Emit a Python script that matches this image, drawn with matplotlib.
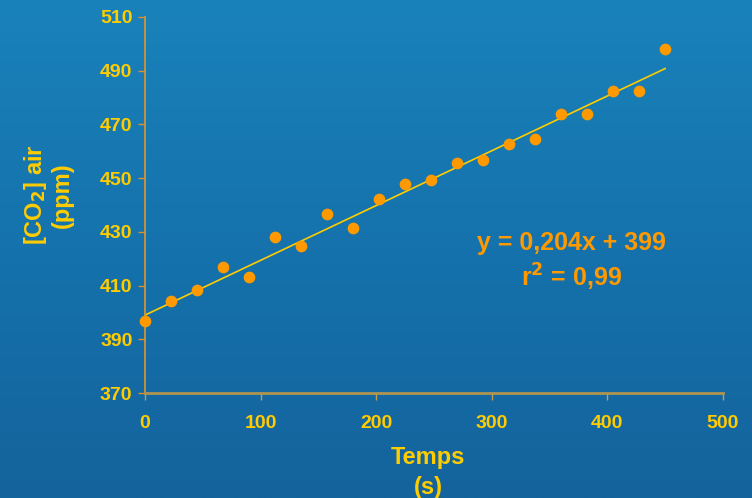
import numpy as np
import matplotlib
matplotlib.use('Agg')
from matplotlib import pyplot as plt
from matplotlib.colors import LinearSegmentedColormap

# data
temps = [0, 22.5, 45, 67.5, 90, 112.5, 135, 157.5, 180, 202.5, 225,
         247.5, 270, 292.5, 315, 337.5, 360, 382.5, 405, 427.5, 450]
co2 = [396.9, 404.3, 408.2, 416.8, 413.2, 428.1, 424.6, 436.8, 431.6, 442.1, 447.7,
       449.4, 455.5, 456.9, 462.8, 464.7, 473.7, 473.7, 482.5, 482.5, 498.1]
slope = 0.204
intercept = 399
xticks = [0, 100, 200, 300, 400, 500]
yticks = [370, 390, 410, 430, 450, 470, 490, 510]

yellow = '#FFCC00'
orange = '#FF9900'

plt.rcParams['font.family'] = ['Liberation Sans', 'DejaVu Sans']
plt.rcParams['font.weight'] = 'bold'
plt.rcParams['mathtext.default'] = 'regular'

fig = plt.figure(figsize=(7.52, 4.98), dpi=100)

# blue gradient background
bg = fig.add_axes([0, 0, 1, 1])
cmap = LinearSegmentedColormap.from_list('bg', ['#1a82ba', '#1572ac', '#14639c'])
grad = np.linspace(0, 1, 256).reshape(-1, 1)
bg.imshow(grad, aspect='auto', cmap=cmap, extent=[0, 1, 0, 1])
bg.axis('off')

ax = fig.add_axes([0.1928, 0.2108, 0.7686, 0.7551])
ax.patch.set_alpha(0)

xs = np.array([0, 450])
ax.plot(xs, slope * xs + intercept, color=yellow, lw=1.2, zorder=2)
ax.scatter(temps, co2, s=55, color=orange, zorder=3, clip_on=False)

ax.set_xlim(0, 500)
ax.set_ylim(370, 510)
ax.set_xticks(xticks)
ax.set_yticks(yticks)
ax.tick_params(axis='both', colors=yellow, labelsize=14, length=5, direction='out', width=1)
ax.tick_params(axis='x', pad=11, color='#c0a050')
ax.tick_params(axis='y', pad=4, color='#d9902a')
for lab in ax.get_xticklabels() + ax.get_yticklabels():
    lab.set_fontweight('bold')

ax.spines['top'].set_visible(False)
ax.spines['right'].set_visible(False)
ax.spines['bottom'].set_color('#b09450')
ax.spines['bottom'].set_linewidth(2)
ax.spines['left'].set_color('#e0962a')
ax.spines['left'].set_linewidth(1.2)

fig.text(428 / 752, 1 - 457 / 498, 'Temps', color=yellow, fontsize=17,
         fontweight='bold', ha='center', va='center')
fig.text(428 / 752, 1 - 487 / 498, '(s)', color=yellow, fontsize=17,
         fontweight='bold', ha='center', va='center')
fig.text(48 / 752, 1 - 195 / 498, '[CO$_\\mathbf{2}$] air\n(ppm)', color=yellow,
         fontsize=17, fontweight='bold', ha='center', va='center',
         rotation=90, linespacing=1.1)

fig.text(571 / 752, 1 - 243 / 498, 'y = 0,204x + 399', color=orange, fontsize=18,
         fontweight='bold', ha='center', va='center')
fig.text(572 / 752, 1 - 277 / 498, 'r$^\\mathbf{2}$ = 0,99', color=orange, fontsize=18,
         fontweight='bold', ha='center', va='center')

fig.savefig('out.png', dpi=100)
